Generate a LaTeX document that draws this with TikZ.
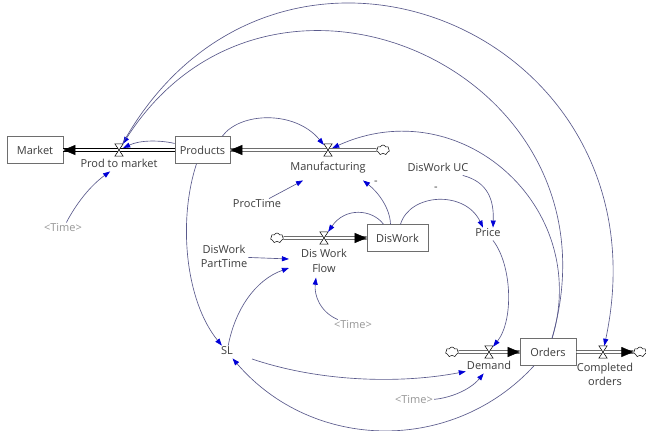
\documentclass[tikz,border=0pt]{standalone}
\usepackage{fontspec}
\setmainfont{Open Sans}
\usetikzlibrary{arrows.meta,shapes.symbols,decorations.markings}
\definecolor{linkc}{RGB}{90,90,140}
\definecolor{tipc}{RGB}{0,0,215}
\definecolor{txt}{RGB}{60,60,60}
\definecolor{shadowc}{RGB}{150,150,150}
\definecolor{boxc}{RGB}{110,110,110}
\begin{document}
\begin{tikzpicture}[x=1pt,y=-1pt,
  font=\fontsize{11}{14.5}\selectfont,
  stock/.style={draw=boxc, line width=0.6pt, fill=white, text=txt, inner sep=0, minimum width=#1, minimum height=27pt},
  lbl/.style={text=txt, inner sep=1pt, text height=8pt, text depth=2.5pt},
  lbltwo/.style={text=txt, inner sep=1pt, align=center},
  shad/.style={text=shadowc, inner sep=1pt, text height=8pt, text depth=2.5pt},
  valve/.style={inner sep=0, minimum width=8pt, minimum height=12pt},
  valveline/.style={draw=black, line width=0.5pt, fill=white},
  cloudnode/.style={cloud, cloud puffs=7, aspect=1.4, draw=black, line width=0.5pt, fill=white, inner sep=0, minimum width=13pt, minimum height=10pt},
  pipe/.style={draw=black, line width=0.6pt, double=white, double distance=2.2pt},
  pipetip/.style={postaction={decorate}, decoration={markings, mark=at position 1 with {\arrow{Triangle[length=12pt,width=10pt]}}}},
  link/.style={draw=linkc, line width=0.65pt, -{Triangle[length=7pt,width=5pt,color=tipc]}}
]
\useasboundingbox (0,0) rectangle (646,431);
\fill[white] (0,0) rectangle (646,431);

% stocks
\node[stock=56pt] (market) at (35,150) {Market};
\node[stock=55pt] (products) at (202.5,150) {Products};
\node[stock=61pt] (diswork) at (397.5,238) {DisWork};
\node[stock=56pt] (orders) at (548,352) {Orders};

% valves
\node[valve] (v1) at (119,150) {};
\node[valve] (v2) at (328,150) {};
\node[valve] (v3) at (324,238) {};
\node[valve] (v4) at (489,352) {};
\node[valve] (v5) at (603,352) {};

% clouds
\node[cloudnode] (c2) at (383,150) {};
\node[cloudnode] (c3) at (277,238) {};
\node[cloudnode] (c4) at (452,352) {};
\node[cloudnode] (c5) at (640,352) {};

% labels
\node[lbl] (lp2m) at (119,165) {Prod to market};
\node[lbl] (lmfg) at (328,168) {Manufacturing};
\node[lbl] (lproc) at (257,205) {ProcTime};
\node[lbl] (lduc) at (438,169) {DisWork UC};
\node[lbl] (lprice) at (488,234) {Price};
\node[lbltwo] (ldpt) at (224,256.5) {DisWork\\PartTime};
\node[lbltwo] (ldwf) at (324,261) {Dis Work\\Flow};
\node[lbl] (lsl) at (227,352) {SL};
\node[lbl] (ldem) at (489,367) {Demand};
\node[lbltwo] (lco) at (605,374.5) {Completed\\orders};
\node[shad] (ltime1) at (63,229) {\textless Time\textgreater};
\node[shad] (ltime2) at (353,326) {\textless Time\textgreater};
\node[shad] (ltime3) at (414,401) {\textless Time\textgreater};
\node[lbl] (s1) at (376,182) {-};
\node[lbl] (s2) at (436,188) {-};

% pipes
\draw[pipe] (products) -- (market);
\path[pipetip] (products) -- (market);
\draw[pipe] (c2) -- (products);
\path[pipetip] (c2) -- (products);
\draw[pipe] (c3) -- (diswork);
\path[pipetip] (c3) -- (diswork);
\draw[pipe] (c4) -- (orders);
\path[pipetip] (c4) -- (orders);
\draw[pipe] (orders) -- (c5);
\path[pipetip] (orders) -- (c5);

% valve symbols
\foreach \v in {v1,v2,v3,v4,v5}
  \draw[valveline] (\v.north west) -- (\v.north east) -- (\v.south west) -- (\v.south east) -- cycle;

% links
\draw[link] (orders) .. controls (629,73) and (271,-88) .. (v1);
\draw[link] (v1) .. controls (275,-130) and (672,28) .. (v5);
\draw[link] (orders) .. controls (592,206) and (460,90) .. (v2);
\draw[link] ([xshift=-8pt]products.north east) .. controls (240,112) and (295,110) .. (v2);
\draw[link] (products) .. controls (160,140) and (140,140) .. (v1);
\draw[link] (ltime1) .. controls (76,204) and (90,186) .. (lp2m);
\draw[link] (lproc) -- ([xshift=-25pt,yshift=-6pt]lmfg.south);
\draw[link] ([xshift=-7pt]diswork.north) .. controls (390,208) and (378,192) .. ([xshift=35pt,yshift=-6pt]lmfg.south);
\draw[link] ([xshift=-14pt]diswork.north) .. controls (372,209) and (345,207) .. (v3);
\draw[link] ([xshift=3pt]diswork.north) .. controls (410,193) and (465,190) .. ([xshift=-5pt]lprice.north);
\draw[link] (lduc) .. controls (488,182) and (494,200) .. ([xshift=5pt]lprice.north);
\draw[link] ([xshift=5pt]lprice.south) .. controls (512,265) and (514,320) .. (v4);
\draw[link] ([xshift=-6pt]products.south) .. controls (178,220) and (185,300) .. (lsl);
\draw[link] (lsl) .. controls (235,310) and (255,280) .. ([xshift=-11pt,yshift=-7pt]ldwf.west);
\draw[link] (ldpt) -- ([xshift=-11pt,yshift=2pt]ldwf.west);
\draw[link] (ltime2) .. controls (320,312) and (314,295) .. ([xshift=-8pt,yshift=-4pt]ldwf.south);
\draw[link] ([xshift=18pt,yshift=-7pt]lsl.east) .. controls (320,382) and (400,384) .. (ldem);
\draw[link] (ltime3) .. controls (450,398) and (470,390) .. (ldem);
\draw[link] ([xshift=-14pt]orders.south) .. controls (453,454) and (313,452) .. (lsl);
\end{tikzpicture}
\end{document}
